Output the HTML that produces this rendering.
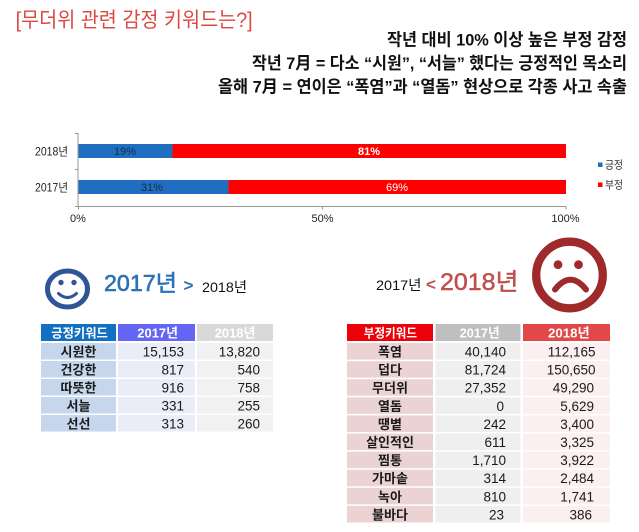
<!DOCTYPE html>
<html>
<head>
<meta charset="utf-8">
<style>
  html,body{margin:0;padding:0;background:#fff;}
  svg{display:block;}
  text{font-family:"Liberation Sans","Noto Sans CJK KR",sans-serif;}
</style>
</head>
<body>
<svg width="639" height="532" viewBox="0 0 639 532" xmlns="http://www.w3.org/2000/svg">
  <rect width="639" height="532" fill="#fff"/>

  <!-- Title -->
  <text x="15.6" y="27" font-size="21" fill="#DA4A45" textLength="237" lengthAdjust="spacingAndGlyphs">[무더위 관련 감정 키워드는?]</text>

  <!-- Right description lines -->
  <text x="387" y="45.5" font-size="17" font-weight="bold" fill="#111" textLength="240" lengthAdjust="spacingAndGlyphs">작년 대비 10% 이상 높은 부정 감정</text>
  <text x="252" y="69" font-size="17" font-weight="bold" fill="#111" textLength="375" lengthAdjust="spacingAndGlyphs">작년 7月 = 다소 “시원”, “서늘” 했다는 긍정적인 목소리</text>
  <text x="218" y="92.5" font-size="17" font-weight="bold" fill="#111" textLength="409" lengthAdjust="spacingAndGlyphs">올해 7月 = 연이은 “폭염”과 “열돔” 현상으로 각종 사고 속출</text>

  <!-- Chart axes -->
  <g stroke="#9a9a9a" stroke-width="1" fill="none">
    <line x1="78" y1="133" x2="78" y2="206.5"/>
    <line x1="78" y1="206.5" x2="566" y2="206.5"/>
    <line x1="75" y1="133.5" x2="78" y2="133.5"/>
    <line x1="75" y1="169.5" x2="78" y2="169.5"/>
    <line x1="75" y1="206.5" x2="78" y2="206.5"/>
    <line x1="78.5" y1="206" x2="78.5" y2="209.5"/>
    <line x1="322.5" y1="206" x2="322.5" y2="209.5"/>
    <line x1="566" y1="206" x2="566" y2="209.5"/>
  </g>

  <!-- Bars -->
  <rect x="78.5" y="144" width="94" height="14" fill="#1F6EBF"/>
  <rect x="172.5" y="144" width="393.5" height="14" fill="#FF0000"/>
  <rect x="78.5" y="180" width="150" height="14" fill="#1F6EBF"/>
  <rect x="228.5" y="180" width="337.5" height="14" fill="#FF0000"/>

  <!-- Bar labels -->
  <text x="125" y="155" font-size="11" fill="#1a2a48" text-anchor="middle">19%</text>
  <text x="369" y="155" font-size="11" font-weight="bold" fill="#fff" text-anchor="middle">81%</text>
  <text x="152" y="191" font-size="11" fill="#1a2a48" text-anchor="middle">31%</text>
  <text x="397" y="191" font-size="11" fill="#fff" text-anchor="middle">69%</text>

  <!-- Y labels -->
  <text x="35" y="155.5" font-size="11.5" fill="#222" textLength="33" lengthAdjust="spacingAndGlyphs">2018년</text>
  <text x="35" y="191.5" font-size="11.5" fill="#222" textLength="33" lengthAdjust="spacingAndGlyphs">2017년</text>

  <!-- X labels -->
  <text x="78" y="222" font-size="11" fill="#222" text-anchor="middle">0%</text>
  <text x="322.5" y="222" font-size="11" fill="#222" text-anchor="middle">50%</text>
  <text x="565.5" y="222" font-size="11" fill="#222" text-anchor="middle">100%</text>

  <!-- Legend -->
  <rect x="598" y="162.5" width="4.5" height="4.5" fill="#1F6EBF"/>
  <text x="605" y="168.5" font-size="11" fill="#333" textLength="18" lengthAdjust="spacingAndGlyphs">긍정</text>
  <rect x="598" y="182.5" width="4.5" height="4.5" fill="#FF0000"/>
  <text x="605" y="188.5" font-size="11" fill="#333" textLength="18" lengthAdjust="spacingAndGlyphs">부정</text>

  <!-- Smiley -->
  <ellipse cx="67.5" cy="289" rx="20" ry="18" fill="none" stroke="#2F5597" stroke-width="5"/>
  <circle cx="61" cy="282.5" r="2.7" fill="#2F5597"/>
  <circle cx="74" cy="282.5" r="2.7" fill="#2F5597"/>
  <path d="M58.5 293.5 Q67.5 301.5 76.5 293.5" fill="none" stroke="#2F5597" stroke-width="3" stroke-linecap="round"/>

  <!-- Left heading -->
  <text x="104" y="291" font-size="23" fill="#2A72B5" stroke="#2A72B5" stroke-width="0.6" textLength="73" lengthAdjust="spacingAndGlyphs">2017년</text>
  <text x="183.5" y="291" font-size="17" font-weight="bold" fill="#2A72B5">&gt;</text>
  <text x="202" y="292" font-size="14" fill="#111" textLength="45" lengthAdjust="spacingAndGlyphs">2018년</text>

  <!-- Sad face -->
  <circle cx="569.5" cy="275" r="33.3" fill="none" stroke="#9E2A2B" stroke-width="8.3"/>
  <circle cx="558" cy="264.7" r="4.4" fill="#9E2A2B"/>
  <circle cx="578.5" cy="264.7" r="4.4" fill="#9E2A2B"/>
  <path d="M555 289.5 Q570.5 270 586 289.5" fill="none" stroke="#9E2A2B" stroke-width="6" stroke-linecap="round"/>

  <!-- Right heading -->
  <text x="376" y="290" font-size="14" fill="#111" textLength="45.5" lengthAdjust="spacingAndGlyphs">2017년</text>
  <text x="426" y="290" font-size="17" font-weight="bold" fill="#C0504D">&lt;</text>
  <text x="440" y="290" font-size="24" fill="#C0504D" stroke="#C0504D" stroke-width="0.5" textLength="78.5" lengthAdjust="spacingAndGlyphs">2018년</text>

  <!-- LEFT TABLE -->
  <rect x="41" y="324" width="75" height="17" fill="#1170C1"/>
  <rect x="118" y="324" width="77" height="17" fill="#6464F5"/>
  <rect x="197" y="324" width="76" height="17" fill="#D9D9D9"/>
  <text x="51.3" y="337.5" font-size="12.5" font-weight="bold" fill="#fff" textLength="56.5" lengthAdjust="spacingAndGlyphs">긍정키워드</text>
  <text x="137.3" y="337.5" font-size="13" font-weight="bold" fill="#fff" textLength="40.7" lengthAdjust="spacingAndGlyphs">2017년</text>
  <text x="214.7" y="337.5" font-size="13" font-weight="bold" fill="#fff" textLength="40.7" lengthAdjust="spacingAndGlyphs">2018년</text>

  <g>
    <rect x="41" y="343" width="75" height="16.5" fill="#C6D6EC"/>
    <rect x="118" y="343" width="77" height="16.5" fill="#EAEDF8"/>
    <rect x="197" y="343" width="76" height="16.5" fill="#F1F1F1"/>
    <rect x="41" y="361" width="75" height="16.5" fill="#C6D6EC"/>
    <rect x="118" y="361" width="77" height="16.5" fill="#EAEDF8"/>
    <rect x="197" y="361" width="76" height="16.5" fill="#F1F1F1"/>
    <rect x="41" y="379" width="75" height="16.5" fill="#C6D6EC"/>
    <rect x="118" y="379" width="77" height="16.5" fill="#EAEDF8"/>
    <rect x="197" y="379" width="76" height="16.5" fill="#F1F1F1"/>
    <rect x="41" y="397" width="75" height="16.5" fill="#C6D6EC"/>
    <rect x="118" y="397" width="77" height="16.5" fill="#EAEDF8"/>
    <rect x="197" y="397" width="76" height="16.5" fill="#F1F1F1"/>
    <rect x="41" y="415" width="75" height="16.5" fill="#C6D6EC"/>
    <rect x="118" y="415" width="77" height="16.5" fill="#EAEDF8"/>
    <rect x="197" y="415" width="76" height="16.5" fill="#F1F1F1"/>
  </g>
  <g font-size="13.5" fill="#1a1a1a">
    <g text-anchor="middle" font-weight="bold" font-size="13">
      <text x="78.5" y="356.5">시원한</text>
      <text x="78.5" y="374.5">건강한</text>
      <text x="78.5" y="392.5">따뜻한</text>
      <text x="78.5" y="410.5">서늘</text>
      <text x="78.5" y="428.5">선선</text>
    </g>
    <g text-anchor="end">
      <text x="184" y="356.7">15,153</text>
      <text x="184" y="374.7">817</text>
      <text x="184" y="392.7">916</text>
      <text x="184" y="410.7">331</text>
      <text x="184" y="428.7">313</text>
      <text x="260" y="356.7">13,820</text>
      <text x="260" y="374.7">540</text>
      <text x="260" y="392.7">758</text>
      <text x="260" y="410.7">255</text>
      <text x="260" y="428.7">260</text>
    </g>
  </g>

  <!-- RIGHT TABLE -->
  <rect x="347" y="324" width="86" height="17" fill="#EC0009"/>
  <rect x="435.5" y="324" width="85" height="17" fill="#BFBFBF"/>
  <rect x="523" y="324" width="87" height="17" fill="#E24848"/>
  <text x="363.7" y="337.5" font-size="12.5" font-weight="bold" fill="#fff" textLength="53.3" lengthAdjust="spacingAndGlyphs">부정키워드</text>
  <text x="459.7" y="337.5" font-size="13" font-weight="bold" fill="#fff" textLength="40" lengthAdjust="spacingAndGlyphs">2017년</text>
  <text x="548" y="337.5" font-size="13" font-weight="bold" fill="#fff" textLength="41.7" lengthAdjust="spacingAndGlyphs">2018년</text>

  <g>
    <rect x="347" y="343" width="86" height="16.6" fill="#EBD3D3"/>
    <rect x="435.5" y="343" width="85" height="16.6" fill="#EFEFEF"/>
    <rect x="523" y="343" width="87" height="16.6" fill="#FBEFEF"/>
    <rect x="347" y="361.1" width="86" height="16.6" fill="#EBD3D3"/>
    <rect x="435.5" y="361.1" width="85" height="16.6" fill="#EFEFEF"/>
    <rect x="523" y="361.1" width="87" height="16.6" fill="#FBEFEF"/>
    <rect x="347" y="379.2" width="86" height="16.6" fill="#EBD3D3"/>
    <rect x="435.5" y="379.2" width="85" height="16.6" fill="#EFEFEF"/>
    <rect x="523" y="379.2" width="87" height="16.6" fill="#FBEFEF"/>
    <rect x="347" y="397.3" width="86" height="16.6" fill="#EBD3D3"/>
    <rect x="435.5" y="397.3" width="85" height="16.6" fill="#EFEFEF"/>
    <rect x="523" y="397.3" width="87" height="16.6" fill="#FBEFEF"/>
    <rect x="347" y="415.4" width="86" height="16.6" fill="#EBD3D3"/>
    <rect x="435.5" y="415.4" width="85" height="16.6" fill="#EFEFEF"/>
    <rect x="523" y="415.4" width="87" height="16.6" fill="#FBEFEF"/>
    <rect x="347" y="433.5" width="86" height="16.6" fill="#EBD3D3"/>
    <rect x="435.5" y="433.5" width="85" height="16.6" fill="#EFEFEF"/>
    <rect x="523" y="433.5" width="87" height="16.6" fill="#FBEFEF"/>
    <rect x="347" y="451.6" width="86" height="16.6" fill="#EBD3D3"/>
    <rect x="435.5" y="451.6" width="85" height="16.6" fill="#EFEFEF"/>
    <rect x="523" y="451.6" width="87" height="16.6" fill="#FBEFEF"/>
    <rect x="347" y="469.7" width="86" height="16.6" fill="#EBD3D3"/>
    <rect x="435.5" y="469.7" width="85" height="16.6" fill="#EFEFEF"/>
    <rect x="523" y="469.7" width="87" height="16.6" fill="#FBEFEF"/>
    <rect x="347" y="487.8" width="86" height="16.6" fill="#EBD3D3"/>
    <rect x="435.5" y="487.8" width="85" height="16.6" fill="#EFEFEF"/>
    <rect x="523" y="487.8" width="87" height="16.6" fill="#FBEFEF"/>
    <rect x="347" y="505.9" width="86" height="16.6" fill="#EBD3D3"/>
    <rect x="435.5" y="505.9" width="85" height="16.6" fill="#EFEFEF"/>
    <rect x="523" y="505.9" width="87" height="16.6" fill="#FBEFEF"/>
  </g>
  <g font-size="13.5" fill="#1a1a1a">
    <g text-anchor="middle" font-weight="bold" font-size="13">
      <text x="390" y="356.5">폭염</text>
      <text x="390" y="374.6">덥다</text>
      <text x="390" y="392.7">무더위</text>
      <text x="390" y="410.8">열돔</text>
      <text x="390" y="428.9">땡볕</text>
      <text x="390" y="447">살인적인</text>
      <text x="390" y="465.1">찜통</text>
      <text x="390" y="483.2">가마솥</text>
      <text x="390" y="501.3">녹아</text>
      <text x="390" y="519.4">불바다</text>
    </g>
    <g text-anchor="end">
      <text x="506" y="356.5">40,140</text>
      <text x="506" y="374.6">81,724</text>
      <text x="506" y="392.7">27,352</text>
      <text x="504" y="410.8">0</text>
      <text x="506" y="428.9">242</text>
      <text x="506" y="447">611</text>
      <text x="506" y="465.1">1,710</text>
      <text x="506" y="483.2">314</text>
      <text x="506" y="501.3">810</text>
      <text x="504" y="519.4">23</text>
      <text x="595.5" y="356.5">112,165</text>
      <text x="595.5" y="374.6">150,650</text>
      <text x="594" y="392.7">49,290</text>
      <text x="594" y="410.8">5,629</text>
      <text x="594" y="428.9">3,400</text>
      <text x="594" y="447">3,325</text>
      <text x="594" y="465.1">3,922</text>
      <text x="594" y="483.2">2,484</text>
      <text x="594" y="501.3">1,741</text>
      <text x="592" y="519.4">386</text>
    </g>
  </g>
</svg>
</body>
</html>
